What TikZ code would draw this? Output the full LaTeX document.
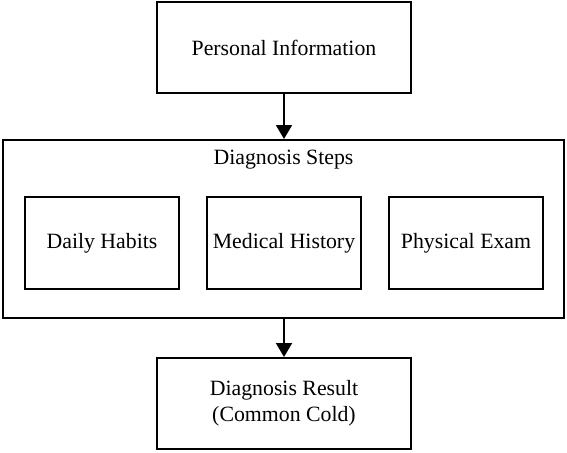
\documentclass[tikz,border=0pt]{standalone}
\usepackage{fontspec}
\setmainfont{Liberation Serif}
\usetikzlibrary{arrows.meta}
\begin{document}
\begin{tikzpicture}[x=1pt,y=1pt,
  txt/.style={font=\fontsize{21.8}{25.5}\selectfont},
  boxst/.style={draw, line width=2pt, inner sep=0pt, align=center, txt},
  arr/.style={line width=2pt, -{Triangle[length=14pt,width=16pt]}}]
\useasboundingbox (0,0) rectangle (567,-452);
\node[boxst, minimum width=254pt, minimum height=91pt] (pi) at (284,-47.5) {Personal Information};
\node[draw, line width=2pt, minimum width=561pt, minimum height=178pt, inner sep=0pt] (ds) at (283.5,-229) {};
\node[txt, anchor=base] (dst) at (283.5,-164) {Diagnosis Steps};
\node[boxst, minimum width=154pt, minimum height=92pt] (dh) at (102,-243) {Daily Habits};
\node[boxst, minimum width=154pt, minimum height=92pt] (mh) at (284,-243) {Medical History};
\node[boxst, minimum width=154pt, minimum height=92pt] (pe) at (466,-243) {Physical Exam};
\node[boxst, minimum width=254pt, minimum height=91pt] (dr) at (284,-403.5) {Diagnosis Result\\(Common Cold)};
\draw[arr] (pi.south) -- (pi.south |- ds.north);
\draw[arr] (dr.north |- ds.south) -- (dr.north);
\end{tikzpicture}
\end{document}
